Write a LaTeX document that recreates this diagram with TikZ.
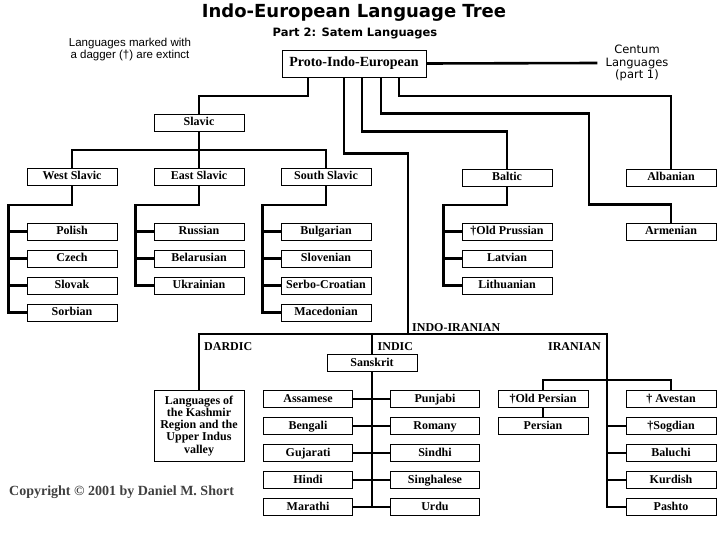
\documentclass[tikz,border=0pt]{standalone}
\usepackage{fontspec}
\setmainfont{Liberation Serif}
\newfontfamily\headfont{DejaVu Sans}
\newfontfamily\notefont{Liberation Sans}
\usepackage{tikz}
\usepackage{xcolor}

\tikzset{
  box/.style={draw, line width=0.9pt, minimum width=90, minimum height=17,
    inner xsep=2pt, inner ysep=0pt, font=\bfseries\fontsize{12}{12.2}\selectfont},
  lang/.style={box, text height=8.5pt, text depth=2.5pt},
  link/.style={line width=2.6pt},
  branch/.style={inner sep=0pt, font=\bfseries\fontsize{12}{12}\selectfont},
}

\begin{document}
\begin{tikzpicture}[x=1pt,y=-1pt]
  \useasboundingbox (0,0) rectangle (720,540);
  \node[font=\headfont\bfseries\fontsize{18}{18}\selectfont] (title) at (354,13) {Indo-European Language Tree};
  \node[font=\headfont\bfseries\fontsize{11.5}{12}\selectfont] (subtitle) at (355,33) {Part 2: Satem Languages};
  \node[align=center, inner sep=0pt, font=\notefont\fontsize{11.5}{12}\selectfont] (note) at (130,50)
    {Languages marked with\\ a dagger (†) are extinct};
  \node[align=center, inner xsep=8pt, inner ysep=0pt, font=\headfont\fontsize{11.5}{12.5}\selectfont] (centum) at (637,63)
    {Centum\\ Languages\\ (part 1)};
  \node[anchor=west, inner sep=0pt, text=black!75, font=\bfseries\fontsize{14}{14}\selectfont] (copy) at (9,492)
    {Copyright © 2001 by Daniel M. Short};

  % top of the tree
  \node[lang, minimum width=144, minimum height=27, font=\bfseries\fontsize{14}{14}\selectfont] (pie) at (354,63.5) {Proto-Indo-European};
  \node[lang] (slavic) at (199,122.5) {Slavic};
  \node[lang] (wslavic) at (72,177) {West Slavic};
  \node[lang] (eslavic) at (199,177) {East Slavic};
  \node[lang] (sslavic) at (326,177) {South Slavic};
  \node[lang] (baltic) at (507,178) {Baltic};
  \node[lang] (albanian) at (671,178) {Albanian};
  \node[lang] (armenian) at (671,231.5) {Armenian};

  \foreach \name/\txt [count=\i] in {polish/Polish, czech/Czech, slovak/Slovak, sorbian/Sorbian}
    \node[lang] (\name) at (72,204.5+27*\i) {\txt};
  \foreach \name/\txt [count=\i] in {russian/Russian, belarusian/Belarusian, ukrainian/Ukrainian}
    \node[lang] (\name) at (199,204.5+27*\i) {\txt};
  \foreach \name/\txt [count=\i] in {bulgarian/Bulgarian, slovenian/Slovenian, serbocroatian/Serbo-Croatian, macedonian/Macedonian}
    \node[lang] (\name) at (326,204.5+27*\i) {\txt};
  \foreach \name/\txt [count=\i] in {oldprussian/†Old Prussian, latvian/Latvian, lithuanian/Lithuanian}
    \node[lang] (\name) at (507,204.5+27*\i) {\txt};

  \draw[link] (pie.east) -- (centum.west);
  \draw[link] ([xshift=-46pt]pie.south) -- ++(0,18.5) -| (slavic.north);
  \draw[link] ([xshift=8pt]pie.south) -- ++(0,54) -| (baltic.north);
  \draw[link] ([xshift=27pt]pie.south) -- ++(0,36) -- ++(208,0) -- ++(0,91) -| (armenian.north);
  \draw[link] ([xshift=45pt]pie.south) -- ++(0,18.5) -| (albanian.north);

  \coordinate (slavicbar) at (199,150);
  \draw[link] (slavic.south) -- (slavicbar);
  \draw[link] (wslavic.north) |- (slavicbar) -| (sslavic.north);
  \draw[link] (slavicbar) -- (eslavic.north);

  \draw[link] (wslavic.south) -- ++(0,19) -| ([xshift=-18pt]sorbian.west) -- (sorbian.west);
  \foreach \n in {polish,czech,slovak}
    \draw[link] ([xshift=-18pt]\n.west) -- (\n.west);
  \draw[link] (eslavic.south) -- ++(0,19) -| ([xshift=-18pt]ukrainian.west) -- (ukrainian.west);
  \foreach \n in {russian,belarusian}
    \draw[link] ([xshift=-18pt]\n.west) -- (\n.west);
  \draw[link] (sslavic.south) -- ++(0,19) -| ([xshift=-18pt]macedonian.west) -- (macedonian.west);
  \foreach \n in {bulgarian,slovenian,serbocroatian}
    \draw[link] ([xshift=-18pt]\n.west) -- (\n.west);
  \draw[link] (baltic.south) -- ++(0,18) -| ([xshift=-18pt]lithuanian.west) -- (lithuanian.west);
  \foreach \n in {oldprussian,latvian}
    \draw[link] ([xshift=-18pt]\n.west) -- (\n.west);

  % indo-iranian
  \node[box, minimum height=71, align=center] (dardic) at (199,425.7)
    {Languages of\\ the Kashmir\\ Region and the\\ Upper Indus\\ valley};
  \node[lang] (sanskrit) at (372,363) {Sanskrit};
  \foreach \name/\txt [count=\i] in {assamese/Assamese, bengali/Bengali, gujarati/Gujarati, hindi/Hindi, marathi/Marathi}
    \node[lang, minimum width=89] (\name) at (308,372+27*\i) {\txt};
  \foreach \name/\txt [count=\i] in {punjabi/Punjabi, romany/Romany, sindhi/Sindhi, singhalese/Singhalese, urdu/Urdu}
    \node[lang, minimum width=89] (\name) at (435,372+27*\i) {\txt};
  \node[lang] (oldpersian) at (543,399) {†Old Persian};
  \node[lang] (persian) at (543,426) {Persian};
  \foreach \name/\txt [count=\i] in {avestan/† Avestan, sogdian/†Sogdian, baluchi/Baluchi, kurdish/Kurdish, pashto/Pashto}
    \node[lang] (\name) at (671,372+27*\i) {\txt};

  \coordinate (indoiran) at (408,334);
  \coordinate (iranian) at (607,334);
  \node[branch, anchor=base west] (iilabel) at (412,331.5) {INDO-IRANIAN};
  \node[branch, anchor=base west] (dardiclabel) at (204,350) {DARDIC};
  \node[branch, anchor=base west] (indiclabel) at (377.5,350.5) {INDIC};
  \node[branch, anchor=base east] (iranianlabel) at (601,350.5) {IRANIAN};

  \draw[link] ([xshift=-10pt]pie.south) -- ++(0,76) -| (indoiran);
  \draw[link] (dardic.north) |- (iranian) |- (pashto.west);
  \draw[link] (sanskrit.north) -- (sanskrit.north |- iranian);
  \draw[link] (sanskrit.south) -- (sanskrit.south |- marathi.east);
  \foreach \a/\b in {assamese/punjabi, bengali/romany, gujarati/sindhi, hindi/singhalese, marathi/urdu}
    \draw[link] (\a.east) -- (\b.west);
  \draw[link] (oldpersian.north) -- ++(0,-10) -| (avestan.north);
  \draw[link] (oldpersian.south) -- (persian.north);
  \foreach \n in {sogdian,baluchi,kurdish}
    \draw[link] (iranian |- \n.west) -- (\n.west);
\end{tikzpicture}
\end{document}
